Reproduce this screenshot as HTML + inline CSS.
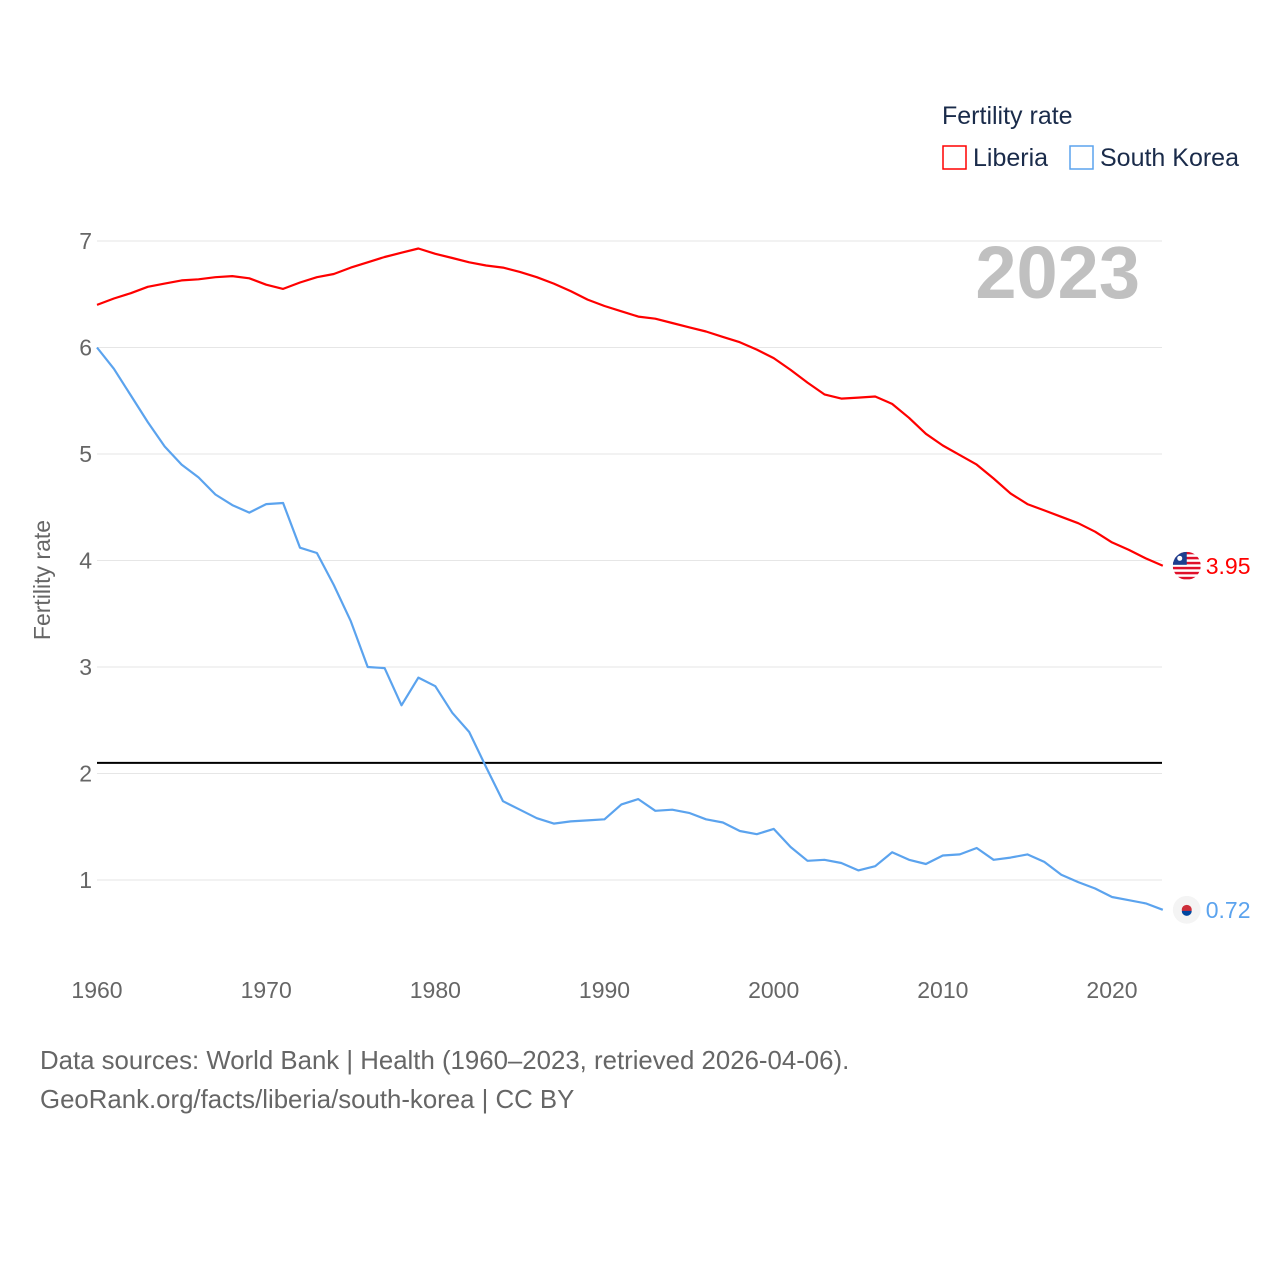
<!DOCTYPE html>
<html><head><meta charset="utf-8">
<style>
html,body{margin:0;padding:0;background:#fff;}
svg{display:block;font-family:"Liberation Sans",sans-serif;}
</style></head>
<body>
<svg id="chart" width="1280" height="1280" viewBox="0 0 1280 1280">
  <defs id="defs"></defs>
  <g id="grid"></g>
  <g id="yticks"></g>
  <g id="xticks"></g>
  <text x="1140" y="298" text-anchor="end" font-size="74" font-weight="bold" fill="#c0c0c0">2023</text>
  <text transform="translate(50,580) rotate(-90)" text-anchor="middle" font-size="23" fill="#666">Fertility rate</text>
  <g id="series"></g>
  <g>
    <text x="942" y="124" font-size="25" fill="#1a2b4a">Fertility rate</text>
    <g>
      <rect x="943" y="146" width="23" height="23" fill="none" stroke="#ff0000" stroke-width="1.5"/>
      <text x="973" y="166" font-size="25" fill="#1a2b4a">Liberia</text>
    </g>
    <g>
      <rect x="1070" y="146" width="23" height="23" fill="none" stroke="#5ba3ee" stroke-width="1.5"/>
      <text x="1100" y="166" font-size="25" fill="#1a2b4a">South Korea</text>
    </g>
  </g>
  <text x="40" y="1069" font-size="25.8" fill="#666">Data sources: World Bank | Health (1960–2023, retrieved 2026-04-06).</text>
  <text x="40" y="1108" font-size="25.8" fill="#666">GeoRank.org/facts/liberia/south-korea | CC BY</text>
</svg>
<script>
const years = [];
for (let y = 1960; y <= 2023; y++) years.push(y);
const liberia = [6.40,6.46,6.51,6.57,6.60,6.63,6.64,6.66,6.67,6.65,6.59,6.55,6.61,6.66,6.69,6.75,6.80,6.85,6.89,6.93,6.88,6.84,6.80,6.77,6.75,6.71,6.66,6.60,6.53,6.45,6.39,6.34,6.29,6.27,6.23,6.19,6.15,6.10,6.05,5.98,5.90,5.79,5.67,5.56,5.52,5.53,5.54,5.47,5.34,5.19,5.08,4.99,4.90,4.77,4.63,4.53,4.47,4.41,4.35,4.27,4.17,4.10,4.02,3.95];
const korea = [6.00,5.80,5.55,5.30,5.07,4.90,4.78,4.62,4.52,4.45,4.53,4.54,4.12,4.07,3.77,3.43,3.00,2.99,2.64,2.90,2.82,2.57,2.39,2.06,1.74,1.66,1.58,1.53,1.55,1.56,1.57,1.71,1.76,1.65,1.66,1.63,1.57,1.54,1.46,1.43,1.48,1.31,1.18,1.19,1.16,1.09,1.13,1.26,1.19,1.15,1.23,1.24,1.30,1.19,1.21,1.24,1.17,1.05,0.98,0.92,0.84,0.81,0.78,0.72];
const yTicks = [1,2,3,4,5,6,7];
const xTicks = [1960,1970,1980,1990,2000,2010,2020];
const replacement = [2.1];

const NS = "http://www.w3.org/2000/svg";
const X = yr => 97 + (yr - 1960) * (1015 / 60);
const Y = v => 880 - (v - 1) * 106.5;
function mk(tag, attrs, parent){const e=document.createElementNS(NS,tag);for(const k in attrs)e.setAttribute(k,attrs[k]);parent.appendChild(e);return e;}

const grid = document.getElementById('grid'), yt = document.getElementById('yticks'), xt = document.getElementById('xticks'), ser = document.getElementById('series'), defs = document.getElementById('defs');
yTicks.forEach(v => {
  const l = mk('line',{x1:97,x2:1162,y1:Y(v),y2:Y(v),stroke:'#e6e6e6','stroke-width':1},grid);
  
  
  const t = mk('text',{x:92,y:Y(v)+8,'text-anchor':'end','font-size':23,fill:'#666'},yt);
  t.textContent = v;
  
  
});
xTicks.forEach(v => {
  const t = mk('text',{x:X(v),y:998,'text-anchor':'middle','font-size':23,fill:'#666'},xt);
  t.textContent = v;
  
  
});
replacement.forEach(v => {
  const l = mk('line',{x1:97,x2:1162,y1:Y(v),y2:Y(v),stroke:'#000','stroke-width':2},ser);
  
  
});
function drawSeries(vals,color,name,flag){
  const pts = vals.map((v,i)=>X(years[i]).toFixed(1)+','+Y(v).toFixed(1)).join(' ');
  const p = mk('polyline',{points:pts,fill:'none',stroke:color,'stroke-width':2.2,'stroke-linejoin':'round'},ser);
  
  
  const last = vals[vals.length-1], lx = X(years[years.length-1]), ly = Y(last);
  const cp = mk('clipPath',{id:'clip-'+name},defs);
  mk('circle',{cx:lx+24,cy:ly,r:14},cp);
  const g = mk('g',{'clip-path':'url(#clip-'+name+')'},ser);
  
  
  mk('circle',{cx:lx+24,cy:ly,r:14,fill:flag.bg},g);
  if(flag.type==='lr'){
    for(let i=0;i<6;i++) mk('rect',{x:lx+10,y:ly-14+i*5,width:28,height:2.5,fill:'#e0102a'},g);
    mk('rect',{x:lx+10,y:ly-14,width:14,height:13,fill:'#1e3f8f'},g);
    mk('circle',{cx:lx+17,cy:ly-7.5,r:2.5,fill:'#fff'},g);
  } else {
    mk('circle',{cx:lx+24,cy:ly,r:5,fill:'#cd2e3a'},g);
    mk('path',{d:`M${lx+19},${ly+1} a5,5 0 0,0 10,0 z`,fill:'#0047a0'},g);
  }
  const t = mk('text',{x:lx+43,y:ly+8,'font-size':23,fill:color},ser);
  t.textContent = last.toFixed(2);
  
  
}
drawSeries(liberia,'#ff0000','liberia',{bg:'#fff',type:'lr'});
drawSeries(korea,'#5ba3ee','south-korea',{bg:'#f4f4f4',type:'kr'});
</script>
</body></html>
